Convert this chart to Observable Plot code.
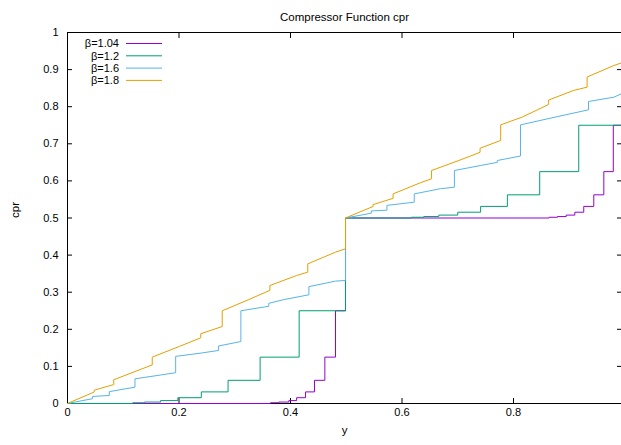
<!DOCTYPE html>
<html>
<head>
<meta charset="utf-8">
<script src="https://cdn.jsdelivr.net/npm/d3@7"></script>
<script src="https://cdn.jsdelivr.net/npm/@observablehq/plot@0.6"></script>
<style>
  body { margin: 0; background: #fff; }
</style>
</head>
<body>
<div id="chart"></div>
<script>
// Series names and line colours (drawn in this order)
const betas = ["β=1.04", "β=1.2", "β=1.6", "β=1.8"];
const colors = ["#9400d3", "#009e73", "#56b4e9", "#e69f00"];

// β=1.04: staircase — x where each level starts, and the level
const stepX104 = [0, 0.364, 0.379, 0.397, 0.411, 0.427, 0.443, 0.4616, 0.4807, 0.4987,
                  0.864, 0.879, 0.8945, 0.91, 0.926, 0.944, 0.962, 0.979, 0.9937];
const stepY104 = [0, 0.002, 0.0039, 0.0078, 0.0156, 0.03125, 0.0625, 0.125, 0.25, 0.5,
                  0.502, 0.5039, 0.5078, 0.5156, 0.53125, 0.5625, 0.625, 0.75, 0.75];

// β=1.2: staircase
const stepX12 = [0, 0.117, 0.138, 0.167, 0.198, 0.24, 0.288, 0.3455, 0.4155, 0.4987,
                 0.617, 0.639, 0.666, 0.70, 0.741, 0.789, 0.847, 0.917, 0.9937];
const stepY12 = [0, 0.002, 0.0039, 0.0078, 0.0156, 0.03125, 0.0625, 0.125, 0.25, 0.5,
                 0.502, 0.5039, 0.5078, 0.5156, 0.53125, 0.5625, 0.625, 0.75, 0.75];

// β=1.6: polyline vertices (a repeated x is a jump)
const lineX16 = [0, 0.045, 0.045, 0.075, 0.075, 0.121, 0.121, 0.168, 0.194, 0.194, 0.24,
                 0.271, 0.271, 0.311, 0.311, 0.361, 0.361, 0.388, 0.433, 0.433, 0.481, 0.4987, 0.4987,
                 0.545, 0.545, 0.573, 0.573, 0.622, 0.622, 0.669, 0.694, 0.694, 0.741,
                 0.771, 0.771, 0.8125, 0.8125, 0.86, 0.887, 0.9345, 0.9345, 0.98, 0.9937];
const lineY16 = [0, 0.013, 0.019, 0.0216, 0.032, 0.044, 0.0665, 0.077, 0.083, 0.127, 0.136,
                 0.143, 0.155, 0.167, 0.25, 0.262, 0.27, 0.28, 0.293, 0.315, 0.33, 0.3315, 0.5,
                 0.513, 0.519, 0.521, 0.534, 0.5426, 0.565, 0.579, 0.583, 0.628, 0.6415,
                 0.65, 0.655, 0.667, 0.751, 0.767, 0.776, 0.7916, 0.814, 0.8256, 0.835];

// β=1.8: polyline vertices
const lineX18 = [0, 0.048, 0.048, 0.083, 0.083, 0.133, 0.152, 0.152, 0.201, 0.239, 0.239,
                 0.2775, 0.2775, 0.325, 0.363, 0.363, 0.411, 0.431, 0.431, 0.481, 0.4987, 0.4987,
                 0.548, 0.548, 0.584, 0.584, 0.633, 0.653, 0.653, 0.702, 0.740, 0.740,
                 0.777, 0.777, 0.8156, 0.863, 0.863, 0.908, 0.932, 0.932, 0.98, 0.9937];
const lineY18 = [0, 0.031, 0.036, 0.051, 0.064, 0.093, 0.104, 0.125, 0.154, 0.177, 0.188,
                 0.2075, 0.25, 0.28, 0.305, 0.318, 0.345, 0.354, 0.3765, 0.408, 0.417, 0.5,
                 0.531, 0.536, 0.553, 0.565, 0.595, 0.6057, 0.628, 0.655, 0.677, 0.688,
                 0.709, 0.751, 0.772, 0.806, 0.818, 0.844, 0.8526, 0.88, 0.911, 0.918];

// Axis ticks
const xTicks = [0, 0.2, 0.4, 0.6, 0.8];
const yTicks = [0, 0.1, 0.2, 0.3, 0.4, 0.5, 0.6, 0.7, 0.8, 0.9, 1];

const titleText = "Compressor Function cpr";
const xLabel = "y";
const yLabel = "cpr";

const zip = (xs, ys) => xs.map((x, i) => ({x, y: ys[i]}));
const fmt = d3.format("~g");

// Legend in the top-left corner of the frame
function legend(index, scales, values, dims) {
  const g = d3.create("svg:g")
    .attr("font-family", "'Liberation Sans', Arial, sans-serif")
    .attr("font-size", 11);
  betas.forEach((b, i) => {
    const yy = dims.marginTop + 11.5 + i * 12.3;
    g.append("text")
      .attr("x", dims.marginLeft + 52)
      .attr("y", yy)
      .attr("dy", "0.36em")
      .attr("text-anchor", "end")
      .attr("fill", "black")
      .text(b);
    g.append("line")
      .attr("x1", dims.marginLeft + 59)
      .attr("x2", dims.marginLeft + 95)
      .attr("y1", yy)
      .attr("y2", yy)
      .attr("stroke", colors[i])
      .attr("stroke-width", 1);
  });
  return g.node();
}

const chart = Plot.plot({
  width: 621,
  height: 445,
  marginLeft: 67,
  marginRight: 0,
  marginTop: 32,
  marginBottom: 42,
  style: {fontFamily: "'Liberation Sans', Arial, sans-serif", fontSize: "11px", color: "black", background: "white"},
  x: {domain: [0, 0.9937]},
  y: {domain: [0, 1]},
  marks: [
    // border
    Plot.ruleX([0], {stroke: "black"}),
    Plot.ruleY([0], {stroke: "black"}),
    Plot.ruleY([1], {stroke: "black"}),
    // inward ticks, mirrored on top and right
    Plot.axisY(yTicks, {anchor: "left", tickSize: -5, tickPadding: 14, tickFormat: fmt, label: null}),
    Plot.axisY(yTicks, {anchor: "right", tickSize: -5, tickFormat: () => "", label: null}),
    Plot.axisX(xTicks, {anchor: "bottom", tickSize: -5, tickPadding: 10, tickFormat: fmt, label: null}),
    Plot.axisX(xTicks, {anchor: "top", tickSize: -5, tickFormat: () => "", label: null}),
    // series
    Plot.line(zip(stepX104, stepY104), {x: "x", y: "y", curve: "step-after", stroke: colors[0], strokeWidth: 1}),
    Plot.line(zip(stepX12, stepY12), {x: "x", y: "y", curve: "step-after", stroke: colors[1], strokeWidth: 1}),
    Plot.line(zip(lineX16, lineY16), {x: "x", y: "y", stroke: colors[2], strokeWidth: 1}),
    Plot.line(zip(lineX18, lineY18), {x: "x", y: "y", stroke: colors[3], strokeWidth: 1}),
    // titles
    Plot.text([titleText], {frameAnchor: "top", dy: -20, fontSize: 11.5, fill: "black"}),
    Plot.text([xLabel], {frameAnchor: "bottom", dy: 30, fontSize: 11.5, fill: "black"}),
    Plot.text([yLabel], {frameAnchor: "left", dx: -52, rotate: -90, fontSize: 11.5, fill: "black"}),
    legend
  ]
});

document.getElementById("chart").appendChild(chart);
</script>
</body>
</html>
